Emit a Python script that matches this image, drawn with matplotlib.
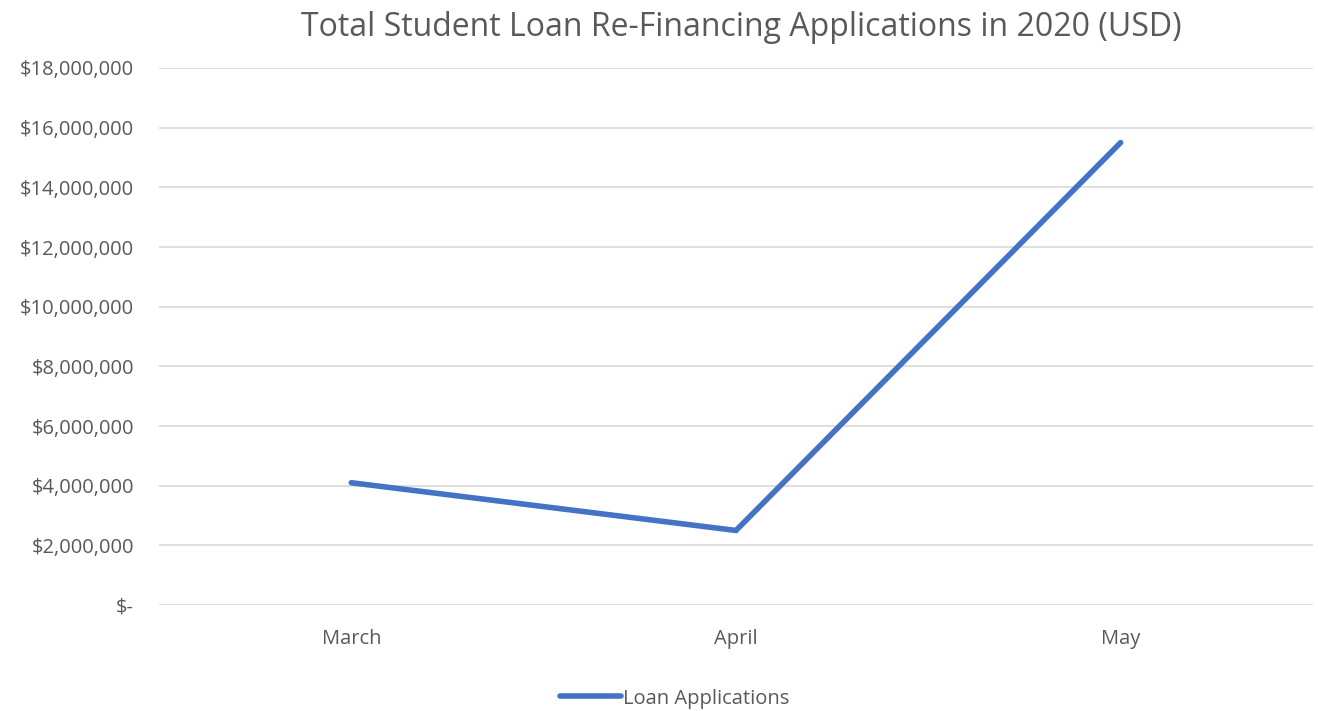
import matplotlib.pyplot as plt
from matplotlib.ticker import FuncFormatter

# monthly totals
months = ['March', 'April', 'May']
applications = [4100000, 2500000, 15500000]
y_ticks = list(range(0, 18000001, 2000000))

text_color = '#595959'
plt.rcParams['font.family'] = ['Open Sans', 'DejaVu Sans']

def dollars(v, pos):
    if v == 0:
        return '$-'
    return '${:,.0f}'.format(v)

fig = plt.figure(figsize=(13.18, 7.11), dpi=100, facecolor='white')
ax = fig.add_axes([0.1206, 0.149, 0.8756, 0.7554])

x = range(len(months))
ax.plot(x, applications, color='#4472C4', linewidth=4.0, solid_capstyle='round',
        solid_joinstyle='miter', label='Loan Applications', zorder=3)

ax.set_xlim(-0.5, 2.5)
ax.set_ylim(0, 18000000)
ax.set_yticks(y_ticks)
ax.yaxis.set_major_formatter(FuncFormatter(dollars))
ax.set_xticks(list(x))
ax.set_xticklabels(months)

ax.grid(axis='y', color='#d9d9d9', linewidth=1.2)
ax.set_axisbelow(True)
for s in ax.spines.values():
    s.set_visible(False)
ax.tick_params(axis='both', length=0, labelsize=14.5, colors=text_color)
ax.tick_params(axis='y', pad=18)
ax.tick_params(axis='x', pad=17)
for lab in ax.get_yticklabels():
    lab.set_horizontalalignment('right')

fig.text(0.5626, 0.962, 'Total Student Loan Re-Financing Applications in 2020 (USD)',
         ha='center', va='center', fontsize=23, color=text_color)

leg = ax.legend(loc='center', bbox_to_anchor=(0.447, -0.174), frameon=False,
                fontsize=14.5, handlelength=3.0, handletextpad=0.1)
for t in leg.get_texts():
    t.set_color(text_color)

fig.savefig('out.png', dpi=100, facecolor='white')
